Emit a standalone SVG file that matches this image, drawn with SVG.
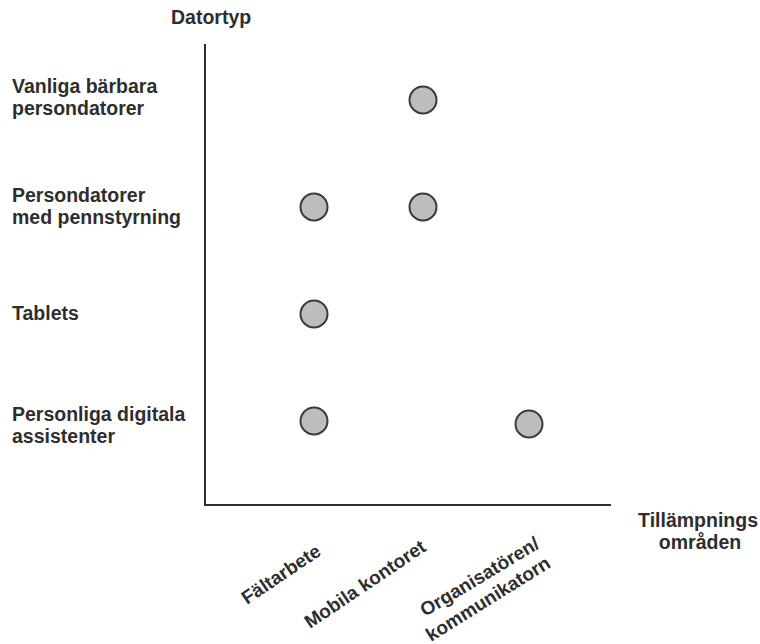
<svg xmlns="http://www.w3.org/2000/svg" width="760" height="644" viewBox="0 0 760 644">
<style>
.t{font-family:"Liberation Sans",Arial,sans-serif;font-size:19.5px;font-weight:bold;fill:#2e2e2e}
.r{font-size:19px}
.dot{fill:#bdbdbd;stroke:#3a3a3a;stroke-width:2}
.ax{stroke:#2e2e2e;stroke-width:2;fill:none}
</style>
<rect width="760" height="644" fill="#ffffff"/>
<g id="axes">
<polyline class="ax" points="205,44 205,505 611,505"/>
</g>
<g id="y-labels">
<text class="t" x="171" y="24">Datortyp</text>
<text class="t" x="12" y="93">Vanliga bärbara</text>
<text class="t" x="12" y="115">persondatorer</text>
<text class="t" x="12" y="202">Persondatorer</text>
<text class="t" x="12" y="224">med pennstyrning</text>
<text class="t" x="12" y="320">Tablets</text>
<text class="t" x="12" y="421">Personliga digitala</text>
<text class="t" x="12" y="443">assistenter</text>
</g>
<g id="x-labels">
<text class="t" x="758" y="527" text-anchor="end">Tillämpnings</text>
<text class="t" x="700" y="549" text-anchor="middle">områden</text>
<text class="t r" transform="translate(247,605) rotate(-34)">Fältarbete</text>
<text class="t r" transform="translate(310,629) rotate(-34)">Mobila kontoret</text>
<text class="t r" transform="translate(425,617) rotate(-31)">Organisatören/</text>
<text class="t r" transform="translate(431,642) rotate(-32)">kommunikatorn</text>
</g>
<g id="points">
<circle id="p1" class="dot" cx="423" cy="100" r="13.5"/>
<circle id="p2" class="dot" cx="314" cy="207" r="13.5"/>
<circle id="p3" class="dot" cx="423" cy="207" r="13.5"/>
<circle id="p4" class="dot" cx="314" cy="314" r="13.5"/>
<circle id="p5" class="dot" cx="314" cy="421" r="13.5"/>
<circle id="p6" class="dot" cx="529" cy="424" r="13.5"/>
</g>
</svg>
